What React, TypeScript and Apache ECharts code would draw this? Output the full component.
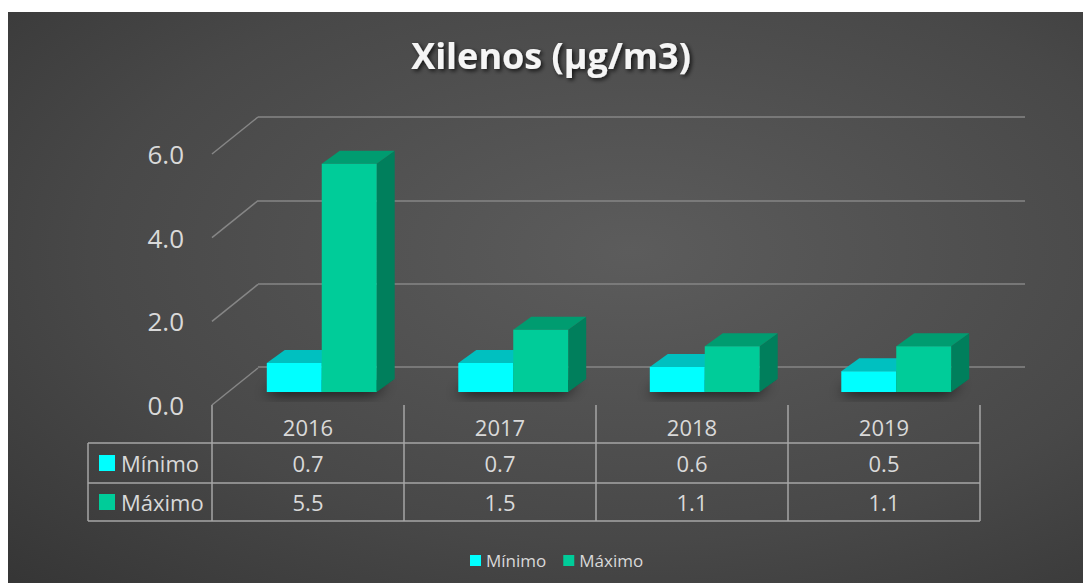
import React, { useEffect, useRef } from "react";
import * as echarts from "echarts";

// ---- data ----
const title = "Xilenos (µg/m3)";
const categories = ["2016", "2017", "2018", "2019"];
const seriesNames = ["Mínimo", "Máximo"];
const minValues = [0.7, 0.7, 0.6, 0.5];
const maxValues = [5.5, 1.5, 1.1, 1.1];
const yTicks = [0, 2, 4, 6];

// ---- styles / layout ----
const FONT = '"Open Sans", "Noto Sans", sans-serif';
const TEXT = "#d9d9d9";
const GRIDLINE = "#868686";
const TABLE_LINE = "#a6a6a6";
const MIN_COLORS = { front: "#00FFFF", top: "#00C0C0", side: "#009C9C" };
const MAX_COLORS = { front: "#00CC99", top: "#009C70", side: "#007F5C" };
const PLOT_LEFT = 212;
const PLOT_W = 768;
const TABLE_LEFT = 88;
const ROW_LINES = [443, 483, 521];
const DEPTH_DX = 18;
const DEPTH_DY = -13;
const WALL_DX = 46;
const WALL_DY = -37;
const BAR_FRAC = 0.287;

function barRender(colors: any, side: number, withShadow: boolean) {
  return (params: any, api: any) => {
    const idx = api.value(0);
    const val = api.value(1);
    const base = api.coord([idx, 0]);
    const top = api.coord([idx, val]);
    const bw = api.size([1, 0])[0] * BAR_FRAC;
    const x = side === 0 ? base[0] - bw : base[0];
    const yb = base[1];
    const yt = top[1];
    const children: any[] = [];
    if (withShadow) {
      const x0 = base[0] - bw;
      children.push({
        type: "polygon",
        shape: {
          points: [
            [x0 + 2, yb - 1],
            [x0 + 2 * bw, yb - 1],
            [x0 + 2 * bw + DEPTH_DX - 2, yb + DEPTH_DY + 1],
            [x0 + DEPTH_DX, yb + DEPTH_DY + 1],
          ],
        },
        style: {
          fill: "rgba(0,0,0,0.8)",
          shadowBlur: 14,
          shadowColor: "rgba(0,0,0,1)",
          shadowOffsetX: -5,
          shadowOffsetY: 3,
        },
      });
    }
    children.push({
      type: "polygon",
      shape: {
        points: [
          [x + bw, yt],
          [x + bw + DEPTH_DX, yt + DEPTH_DY],
          [x + bw + DEPTH_DX, yb + DEPTH_DY],
          [x + bw, yb],
        ],
      },
      style: { fill: colors.side },
    });
    children.push({
      type: "polygon",
      shape: {
        points: [
          [x, yt],
          [x + bw, yt],
          [x + bw + DEPTH_DX, yt + DEPTH_DY],
          [x + DEPTH_DX, yt + DEPTH_DY],
        ],
      },
      style: { fill: colors.top },
    });
    children.push({
      type: "rect",
      shape: { x, y: yt, width: bw, height: yb - yt },
      style: { fill: colors.front },
    });
    return { type: "group", children };
  };
}

function buildTable(): any[] {
  const els: any[] = [];
  const right = PLOT_LEFT + PLOT_W;
  ROW_LINES.forEach((y) => {
    els.push({
      type: "line",
      silent: true,
      shape: { x1: TABLE_LEFT, y1: y, x2: right, y2: y },
      style: { stroke: TABLE_LINE, lineWidth: 1.5 },
    });
  });
  els.push({
    type: "line",
    silent: true,
    shape: { x1: TABLE_LEFT, y1: ROW_LINES[0], x2: TABLE_LEFT, y2: ROW_LINES[2] },
    style: { stroke: TABLE_LINE, lineWidth: 1.5 },
  });
  const rows = [minValues, maxValues];
  const rowColors = [MIN_COLORS.front, MAX_COLORS.front];
  const colW = PLOT_W / categories.length;
  rows.forEach((vals, r) => {
    const cy = (ROW_LINES[r] + ROW_LINES[r + 1]) / 2;
    els.push({
      type: "rect",
      silent: true,
      shape: { x: TABLE_LEFT + 11, y: cy - 8, width: 16, height: 16 },
      style: { fill: rowColors[r] },
    });
    els.push({
      type: "text",
      silent: true,
      x: TABLE_LEFT + 33,
      y: cy,
      style: {
        text: seriesNames[r],
        fill: TEXT,
        fontSize: 22,
        fontFamily: FONT,
        textAlign: "left",
        textVerticalAlign: "middle",
      },
    });
    vals.forEach((v, i) => {
      els.push({
        type: "text",
        silent: true,
        x: PLOT_LEFT + colW * (i + 0.5),
        y: cy,
        style: {
          text: v.toFixed(1),
          fill: TEXT,
          fontSize: 22,
          fontFamily: FONT,
          textAlign: "center",
          textVerticalAlign: "middle",
        },
      });
    });
  });
  return els;
}

export default function App() {
  const ref = useRef<HTMLDivElement>(null);
  useEffect(() => {
    if (!ref.current) return;
    const chart = echarts.init(ref.current, null, { renderer: "svg" });
    const option: any = {
      animation: false,
      backgroundColor: "#ffffff",
      graphic: [
        {
          type: "rect",
          z: -100,
          silent: true,
          shape: { x: 8, y: 12, width: 1075, height: 571 },
          style: {
            fill: new echarts.graphic.RadialGradient(0.58, 0.42, 1.12, [
              { offset: 0, color: "#5c5c5c" },
              { offset: 0.45, color: "#484848" },
              { offset: 1, color: "#242424" },
            ]),
          },
        },
        {
          type: "text",
          silent: true,
          x: 551,
          y: 55,
          style: {
            text: title,
            fill: "#f5f5f5",
            fontSize: 36,
            fontWeight: "bold",
            fontFamily: FONT,
            textAlign: "center",
            textVerticalAlign: "middle",
            textShadowColor: "rgba(0,0,0,0.75)",
            textShadowBlur: 4,
            textShadowOffsetX: 2,
            textShadowOffsetY: 2,
          },
        },
        ...buildTable(),
      ],
      legend: {
        data: seriesNames,
        left: 465,
        top: 547,
        icon: "rect",
        itemWidth: 11,
        itemHeight: 11,
        itemGap: 17,
        textStyle: { color: TEXT, fontSize: 17, fontFamily: FONT },
      },
      grid: [
        { left: PLOT_LEFT, top: 154, width: PLOT_W, height: 251 },
        { left: 226, top: 143, width: 766, height: 249 },
        { left: 258, top: 117, width: 767, height: 250 },
      ],
      xAxis: [
        {
          gridIndex: 0,
          type: "category",
          data: categories,
          axisLine: { show: false },
          axisTick: { show: true, length: 116, lineStyle: { color: TABLE_LINE, width: 1.5 } },
          axisLabel: { color: TEXT, fontSize: 22, fontFamily: FONT, margin: 11 },
          splitLine: { show: false },
        },
        { gridIndex: 1, type: "category", data: categories, show: false },
        { gridIndex: 2, type: "category", data: categories, show: false },
      ],
      yAxis: [
        {
          gridIndex: 0,
          type: "value",
          min: 0,
          max: 6,
          interval: 2,
          axisLine: { show: false },
          axisTick: { show: false },
          splitLine: { show: false },
          axisLabel: {
            color: TEXT,
            fontSize: 26,
            fontFamily: FONT,
            margin: 28,
            formatter: (v: number) => v.toFixed(1),
          },
        },
        { gridIndex: 1, type: "value", min: 0, max: 6, interval: 2, show: false },
        {
          gridIndex: 2,
          type: "value",
          min: 0,
          max: 6,
          interval: 2,
          axisLine: { show: false },
          axisTick: { show: false },
          axisLabel: { show: false },
          splitLine: { show: true, lineStyle: { color: GRIDLINE, width: 1.5 } },
        },
      ],
      series: [
        {
          type: "custom",
          name: "walls",
          xAxisIndex: 0,
          yAxisIndex: 0,
          silent: true,
          data: yTicks.map((v) => [0, v]),
          renderItem: (params: any, api: any) => {
            const p = api.coord([0, api.value(1)]);
            const x0 = p[0] - api.size([1, 0])[0] / 2;
            return {
              type: "line",
              shape: { x1: x0, y1: p[1], x2: x0 + WALL_DX, y2: p[1] + WALL_DY },
              style: { stroke: GRIDLINE, lineWidth: 1.5 },
            };
          },
        },
        {
          type: "custom",
          name: seriesNames[0],
          xAxisIndex: 1,
          yAxisIndex: 1,
          itemStyle: { color: MIN_COLORS.front },
          data: minValues.map((v, i) => [i, v]),
          renderItem: barRender(MIN_COLORS, 0, true),
        },
        {
          type: "custom",
          name: seriesNames[1],
          xAxisIndex: 1,
          yAxisIndex: 1,
          itemStyle: { color: MAX_COLORS.front },
          data: maxValues.map((v, i) => [i, v]),
          renderItem: barRender(MAX_COLORS, 1, false),
        },
      ],
    };
    chart.setOption(option);
    return () => chart.dispose();
  }, []);
  return (
    <div
      ref={ref}
      style={{ position: "absolute", left: 0, top: 0, width: 1083, height: 583 }}
    />
  );
}
